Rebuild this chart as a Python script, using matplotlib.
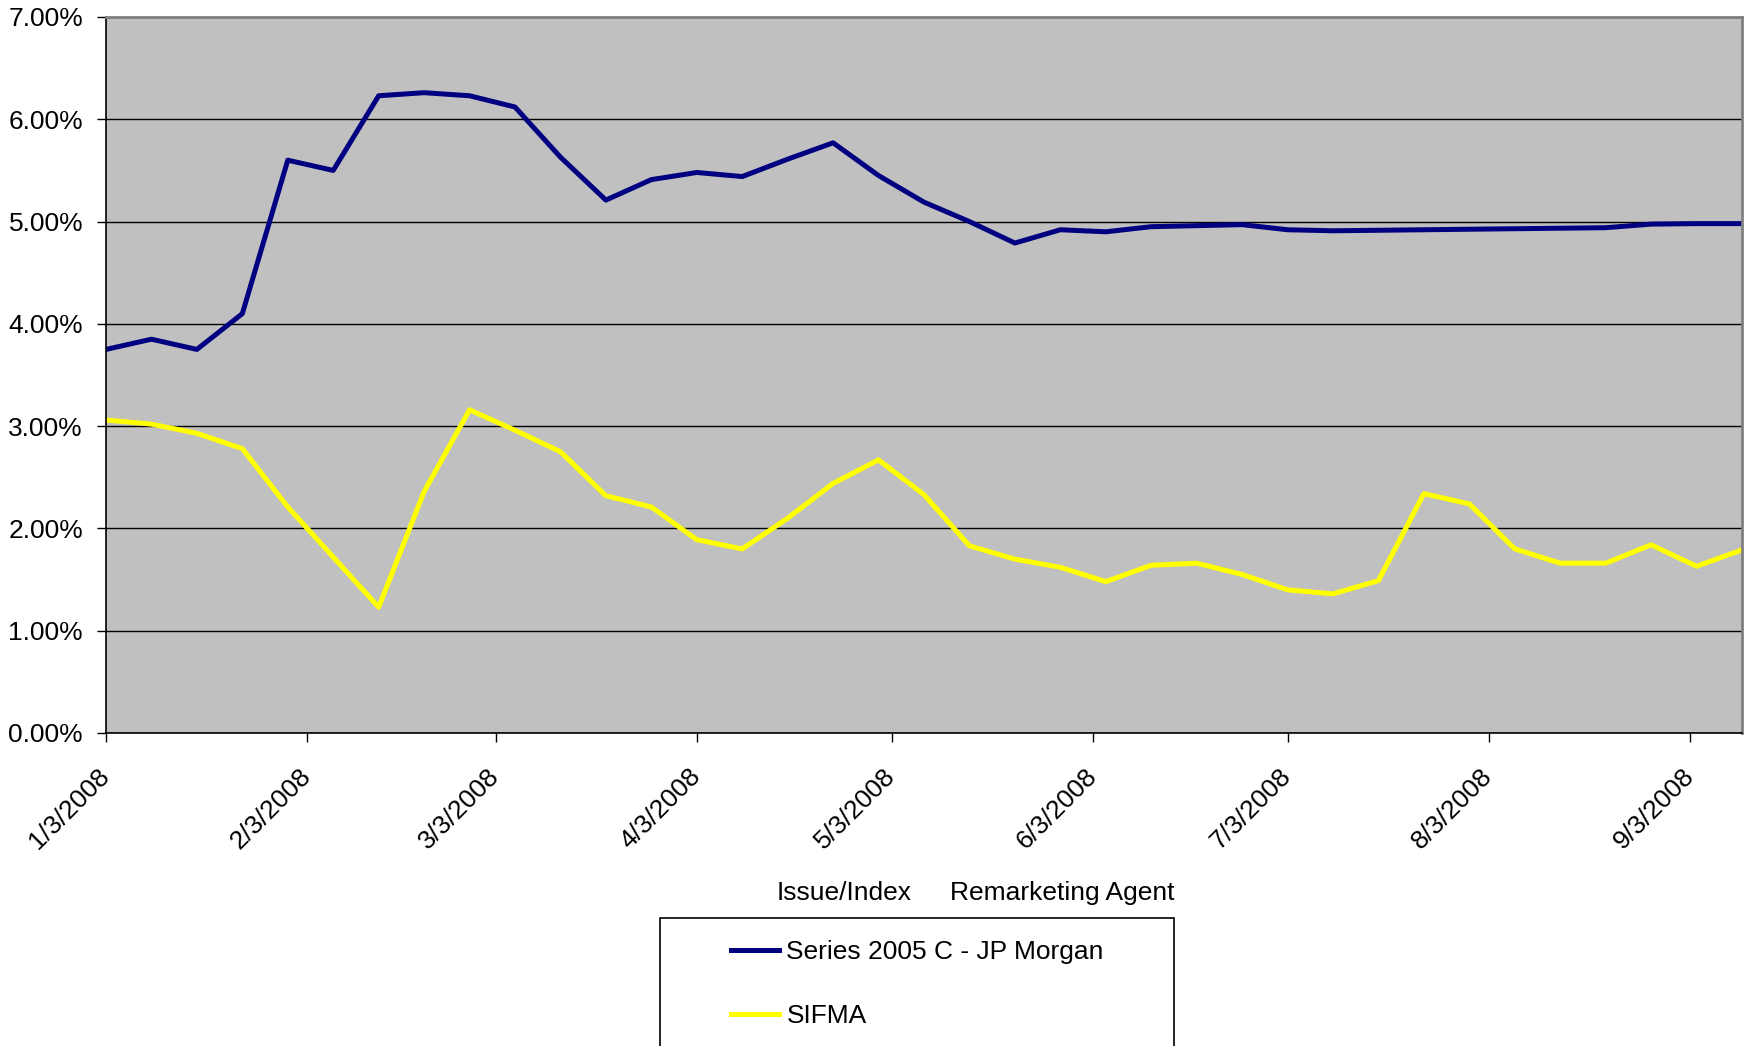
import matplotlib
matplotlib.use("Agg")
import matplotlib.pyplot as plt
import matplotlib.dates as mdates
from matplotlib.ticker import FuncFormatter, MultipleLocator
from matplotlib.patches import Rectangle
import pandas as pd

plt.rcParams['font.family'] = ['Liberation Sans', 'DejaVu Sans']

# weekly reset dates
dates = ['2008-01-03', '2008-01-10', '2008-01-17', '2008-01-24', '2008-01-31',
         '2008-02-07', '2008-02-14', '2008-02-21', '2008-02-28',
         '2008-03-06', '2008-03-13', '2008-03-20', '2008-03-27',
         '2008-04-03', '2008-04-10', '2008-04-17', '2008-04-24',
         '2008-05-01', '2008-05-08', '2008-05-15', '2008-05-22', '2008-05-29',
         '2008-06-05', '2008-06-12', '2008-06-19', '2008-06-26',
         '2008-07-03', '2008-07-10', '2008-07-17', '2008-07-24', '2008-07-31',
         '2008-08-07', '2008-08-14', '2008-08-21', '2008-08-28',
         '2008-09-04', '2008-09-11']

# rates in percent
series_2005c = [3.75, 3.85, 3.75, 4.10, 5.60, 5.50, 6.23, 6.26, 6.23, 6.12,
                5.63, 5.21, 5.41, 5.48, 5.44, 5.61, 5.77, 5.45, 5.19, 5.00,
                4.79, 4.92, 4.90, 4.95, 4.96, 4.97, 4.92, 4.91, 4.915, 4.92,
                4.925, 4.93, 4.935, 4.94, 4.975, 4.98, 4.98]
sifma = [3.06, 3.02, 2.93, 2.78, 2.21, 1.72, 1.23, 2.36, 3.16, 2.96,
         2.75, 2.32, 2.21, 1.89, 1.80, 2.10, 2.44, 2.67, 2.33, 1.83,
         1.70, 1.62, 1.48, 1.64, 1.66, 1.55, 1.40, 1.36, 1.49, 2.34,
         2.24, 1.80, 1.66, 1.66, 1.84, 1.63, 1.79]

month_ticks = ['2008-01-03', '2008-02-03', '2008-03-03', '2008-04-03', '2008-05-03',
               '2008-06-03', '2008-07-03', '2008-08-03', '2008-09-03']

x = pd.to_datetime(dates)
fs = 19

fig = plt.figure(figsize=(17.45, 10.46), dpi=100)
ax = fig.add_axes([106 / 1745, 1 - 733 / 1046, 1636 / 1745, 716 / 1046])
ax.set_facecolor('#C0C0C0')

ax.plot(x, [v / 100 for v in series_2005c], color='#000080', lw=3.6,
        label='Series 2005 C - JP Morgan')
ax.plot(x, [v / 100 for v in sifma], color='#FFFF00', lw=3.6,
        label='SIFMA')

ax.set_xlim(x[0], x[-1])
ax.set_ylim(0, 0.07)
ax.yaxis.set_major_locator(MultipleLocator(0.01))
ax.yaxis.set_major_formatter(FuncFormatter(lambda v, p: f"{v * 100:.2f}%"))
ax.grid(axis='y', color='black', lw=1)
ax.set_axisbelow(True)

tick_pos = pd.to_datetime(month_ticks)
ax.set_xticks(mdates.date2num(tick_pos))
ax.set_xticklabels([f"{d.month}/{d.day}/{d.year}" for d in tick_pos],
                   rotation=45, ha='right', va='center', rotation_mode='anchor')

ax.tick_params(axis='both', direction='out', length=6.5, width=1, color='black',
               labelsize=fs)
ax.tick_params(axis='y', pad=10)
ax.tick_params(axis='x', pad=22)

for s in ['left', 'bottom']:
    ax.spines[s].set_color('black')
    ax.spines[s].set_linewidth(1.2)
for s in ['top', 'right']:
    ax.spines[s].set_color('#808080')
    ax.spines[s].set_linewidth(2)

fig.text(777 / 1745, 1 - 893 / 1046, 'Issue/Index', fontsize=fs, va='center', ha='left')
fig.text(950 / 1745, 1 - 893 / 1046, 'Remarketing Agent', fontsize=fs, va='center', ha='left')

fig.patches.append(Rectangle((660 / 1745, -0.1), 514 / 1745, 0.1 + (1 - 918 / 1046),
                             transform=fig.transFigure, facecolor='white',
                             edgecolor='black', lw=1.2, clip_on=False))
handles, labels = ax.get_legend_handles_labels()
fig.legend(handles, labels, loc='upper left', bbox_to_anchor=(731 / 1745, 1 - 940 / 1046),
           frameon=False, fontsize=fs, borderpad=0, borderaxespad=0,
           handlelength=1.8, handletextpad=0.3, labelspacing=1.53)

fig.savefig('out.png', dpi=100)
